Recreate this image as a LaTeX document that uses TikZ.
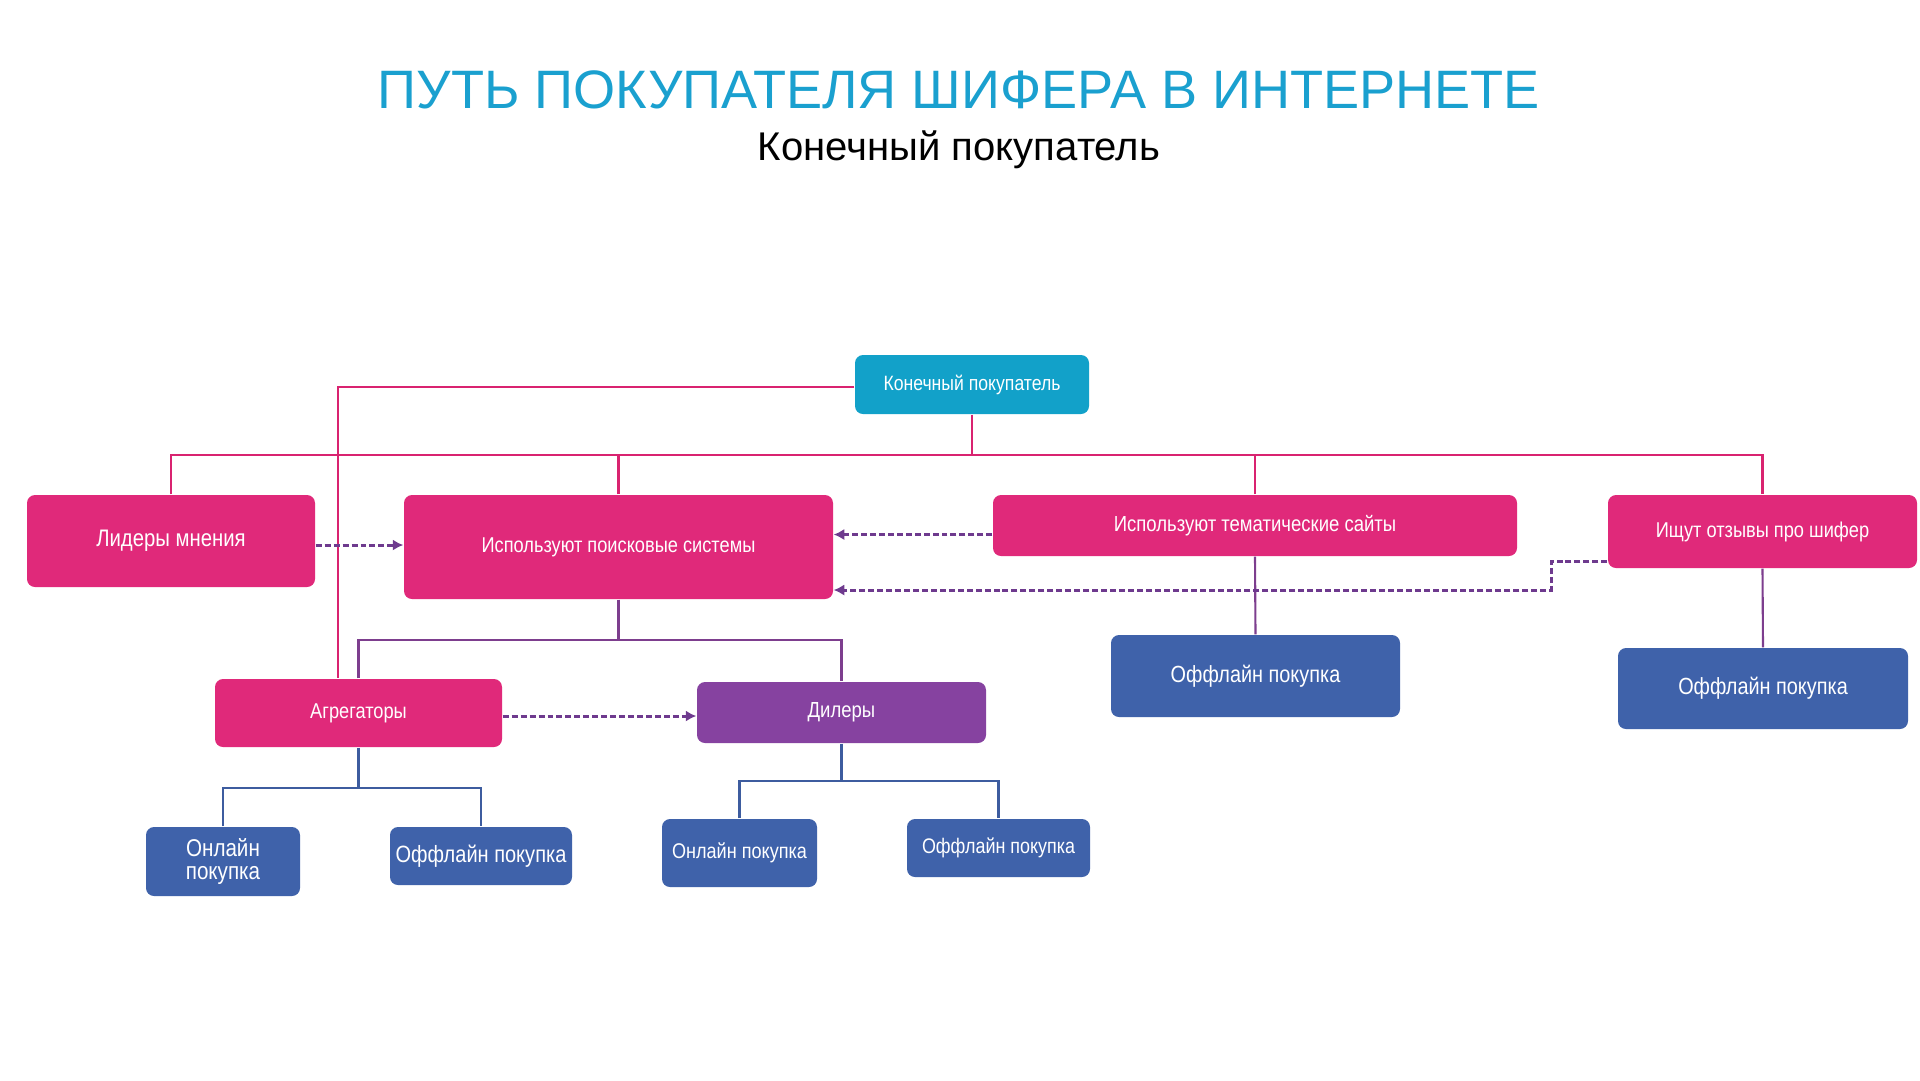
\documentclass[tikz,border=0pt]{standalone}
\usepackage{fontspec}
\setmainfont{Liberation Sans}
\newfontfamily\narrowfont[FakeStretch=0.85]{Liberation Sans}
\usetikzlibrary{arrows.meta}
\definecolor{titleblue}{HTML}{1AA0CF}
\definecolor{topblue}{HTML}{12A1C9}
\definecolor{crimson}{HTML}{E0297A}
\definecolor{violet}{HTML}{8642A0}
\definecolor{navy}{HTML}{3F62AA}
\definecolor{pinkline}{HTML}{D92370}
\definecolor{violetline}{HTML}{7D3E8E}
\definecolor{navyline}{HTML}{3D5C9F}
\definecolor{dashviolet}{HTML}{6E3A8E}
\newcommand{\boxfont}[1]{\narrowfont\fontsize{#1}{#1}\selectfont}

\begin{document}
\begin{tikzpicture}[
    x=0.1mm, y=-0.1mm,
    box/.style={rounded corners=0.8mm, align=center, text=white, inner sep=0pt},
    topbox/.style={box, fill=topblue},
    pinkbox/.style={box, fill=crimson},
    violetbox/.style={box, fill=violet},
    buybox/.style={box, fill=navy},
    pinklink/.style={draw=pinkline, line width=0.6pt},
    violetlink/.style={draw=violetline, line width=0.6pt},
    navylink/.style={draw=navyline, line width=0.6pt},
    dasharr/.style={-{Latex[length=3pt,width=3.2pt]}, draw=dashviolet,
                    dash pattern=on 1.7pt off 0.85pt, line width=0.85pt}
]
  \useasboundingbox (0,0) rectangle (1920,1080);

  \node[anchor=base, text=titleblue, font=\fontsize{15.4}{15.4}\selectfont] (title) at (959,108)
    {ПУТЬ ПОКУПАТЕЛЯ ШИФЕРА В ИНТЕРНЕТЕ};
  \node[anchor=base, font=\fontsize{11.4}{11.4}\selectfont] (subtitle) at (959,160) {Конечный покупатель};

  \node[topbox, minimum width=23.4mm, minimum height=5.9mm, font=\boxfont{5.9}] (top) at (972,384.5) {Конечный покупатель};

  \node[pinkbox, minimum width=28.8mm, minimum height=9.2mm, font=\boxfont{6.8}] (leaders) at (171,541) {Лидеры мнения};
  \node[pinkbox, minimum width=42.9mm, minimum height=10.4mm, font=\boxfont{6.1}] (search) at (618.5,547) {Используют поисковые системы};
  \node[pinkbox, minimum width=52.4mm, minimum height=6.1mm, font=\boxfont{6.2}] (themes) at (1255,525.5) {Используют тематические сайты};
  \node[pinkbox, minimum width=30.9mm, minimum height=7.3mm, font=\boxfont{6.1}] (reviews) at (1762.5,531.5) {Ищут отзывы про шифер};

  \node[pinkbox, minimum width=28.7mm, minimum height=6.8mm, font=\boxfont{6.1}] (aggr) at (358.5,713) {Агрегаторы};
  \node[violetbox, minimum width=28.9mm, minimum height=6.1mm, font=\boxfont{6.2}] (dealers) at (841.5,712.5) {Дилеры};

  \node[buybox, minimum width=15.4mm, minimum height=6.9mm, font=\narrowfont\fontsize{6.9}{6.4}\selectfont] (online1) at (223,861.5) {Онлайн\\покупка};
  \node[buybox, minimum width=18.2mm, minimum height=5.8mm, font=\boxfont{6.7}] (offline1) at (481,856) {Оффлайн покупка};
  \node[buybox, minimum width=15.5mm, minimum height=6.8mm, font=\boxfont{6.05}] (online2) at (739.5,853) {Онлайн покупка};
  \node[buybox, minimum width=18.3mm, minimum height=5.8mm, font=\boxfont{6.0}] (offline2) at (998.5,848) {Оффлайн покупка};
  \node[buybox, minimum width=28.9mm, minimum height=8.2mm, font=\boxfont{6.65}] (offline3) at (1255.5,676) {Оффлайн покупка};
  \node[buybox, minimum width=29.0mm, minimum height=8.1mm, font=\boxfont{6.65}] (offline4) at (1763,688.5) {Оффлайн покупка};

  \coordinate (bus) at (972,455);
  \coordinate (topleft) at (338,387);
  \coordinate (sbus) at (618.5,640);
  \coordinate (abus) at (358.5,788);
  \coordinate (dbus) at (841.5,781);
  \coordinate (rvbend) at (1551,590);

  \draw[pinklink] (top.south) -- (bus);
  \draw[pinklink] (leaders.north) |- (bus) -| (reviews.north);
  \draw[pinklink] (search.north) -- (search.north |- bus);
  \draw[pinklink] (themes.north) -- (themes.north |- bus);
  \draw[pinklink] (top.west |- topleft) -- (topleft) -- (topleft |- aggr.north);

  \draw[violetlink] (search.south) -- (sbus);
  \draw[violetlink] (aggr.north) |- (sbus) -| (dealers.north);
  \draw[violetlink] (themes.south) -- (offline3.north);
  \draw[violetlink] (reviews.south) -- (offline4.north);

  \draw[navylink] (aggr.south) -- (abus);
  \draw[navylink] (online1.north) |- (abus) -| (offline1.north);
  \draw[navylink] (dealers.south) -- (dbus);
  \draw[navylink] (online2.north) |- (dbus) -| (offline2.north);

  \draw[dasharr] ([yshift=-0.4mm]leaders.east) -- ([yshift=-0.4mm]leaders.east -| search.west);
  \draw[dasharr] ([yshift=-0.9mm]themes.west) -- ([yshift=-0.9mm]themes.west -| search.east);
  \draw[dasharr] ([yshift=-3mm]reviews.west) -| (rvbend) -- (rvbend -| search.east);
  \draw[dasharr] ([yshift=-0.3mm]aggr.east) -- ([yshift=-0.3mm]aggr.east -| dealers.west);
\end{tikzpicture}
\end{document}
